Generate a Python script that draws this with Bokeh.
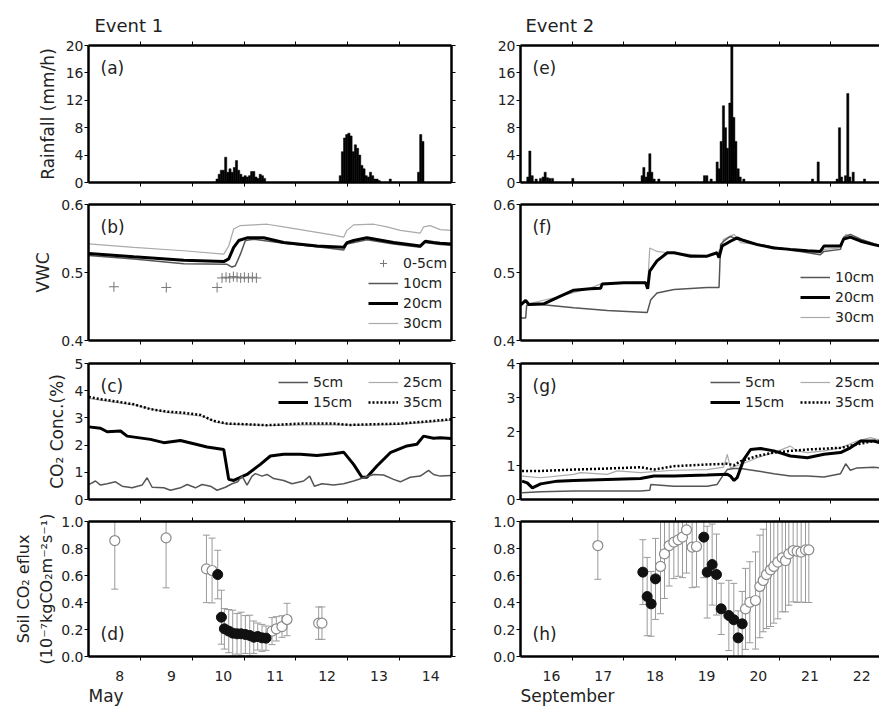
import numpy as np
from bokeh.plotting import figure
from bokeh.layouts import gridplot
from bokeh.models import (Range1d, LinearAxis, FixedTicker, PrintfTickFormatter,
                          Legend, LegendItem, Label, Title)
from bokeh.embed import file_html
from bokeh.resources import INLINE

FONT = "DejaVu Sans"
INK = "#222222"

# ------------------------------------------------------------------ data
may_days = [8, 9, 10, 11, 12, 13, 14]
sep_days = [16, 17, 18, 19, 20, 21, 22]

# rainfall, event 1 (hourly bars, start day of each storm + hourly mm/h)
rain1_start = [10.479, 12.855, 13.819, 14.365]
rain1_vals = [
    [0.5, 1.2, 1.8, 1.8, 3.7, 1.5, 2.0, 1.5, 2.2, 3.2, 1.8, 1.2, 0.8, 1.0, 0.8,
     1.0, 1.6, 1.6, 0.8, 0.6, 1.2, 1.0, 0.6],
    [1.0, 4.5, 6.5, 7.0, 7.2, 6.8, 4.5, 5.5, 5.0, 4.0, 2.5, 2.0, 1.0, 0.8, 1.5,
     1.0, 0.5, 0.5, 0.3],
    [0.5],
    [1.5, 7.0, 6.0],
]
# rainfall, event 2
rain2_time = [16.142, 16.181, 16.226, 16.303, 16.387, 16.438, 16.477, 16.522, 16.567,
              16.619, 17.012, 18.353, 18.386, 18.431, 18.469, 18.502, 18.540, 18.585,
              18.676, 19.559, 19.604, 19.688, 19.804, 19.843, 19.881, 19.926, 19.965,
              20.004, 20.049, 20.088, 20.126, 20.165, 20.210, 20.249, 20.320, 21.648,
              21.758, 22.125, 22.170, 22.209, 22.286, 22.331, 22.370, 22.435, 22.654]
rain2_mm = [0.8, 4.6, 1.0, 0.5, 0.6, 0.8, 1.5, 0.7, 0.6,
            0.6, 0.6, 1.0, 2.2, 0.8, 1.5, 4.2, 1.5, 0.5,
            0.5, 1.0, 1.0, 0.5, 3.0, 2.0, 6.0, 11.2, 8.0,
            5.0, 11.6, 20.0, 9.5, 6.0, 2.0, 0.8, 0.5, 0.5,
            3.0, 0.5, 8.0, 0.8, 1.0, 13.0, 0.8, 1.5, 0.5]

# VWC, event 1
vwc1_t05 = [8.49, 9.50, 10.48, 10.575, 10.652, 10.723, 10.794, 10.865, 10.935, 11.006,
            11.083, 11.160, 11.237]
vwc1_05 = [0.479, 0.478, 0.478, 0.492, 0.493, 0.492, 0.494, 0.493, 0.492, 0.493,
           0.492, 0.493, 0.492]
vwc1_t10 = [8.006, 8.873, 9.837, 10.672, 10.768, 10.832, 10.929, 11.025, 11.186, 11.764,
            12.406, 12.920, 12.984, 13.369, 13.883, 14.397, 14.493, 14.782, 15.0]
vwc1_10 = [0.525, 0.520, 0.513, 0.512, 0.508, 0.510, 0.527, 0.547, 0.549, 0.543,
           0.538, 0.533, 0.542, 0.548, 0.542, 0.537, 0.544, 0.541, 0.540]
vwc1_t20 = [8.006, 8.873, 9.837, 10.608, 10.704, 10.800, 10.897, 11.057, 11.378, 11.764,
            12.406, 12.920, 12.984, 13.112, 13.369, 13.883, 14.397, 14.493, 14.654,
            14.782, 15.0]
vwc1_20 = [0.528, 0.523, 0.518, 0.516, 0.520, 0.537, 0.547, 0.551, 0.551, 0.544,
           0.539, 0.537, 0.544, 0.547, 0.551, 0.544, 0.539, 0.546, 0.544, 0.543, 0.542]
vwc1_t30 = [8.006, 8.873, 9.837, 10.608, 10.704, 10.800, 10.929, 11.186, 11.443, 11.764,
            12.085, 12.406, 12.727, 12.920, 12.984, 13.112, 13.498, 13.755, 14.012,
            14.397, 14.461, 14.590, 14.782, 15.0]
vwc1_30 = [0.542, 0.537, 0.532, 0.527, 0.539, 0.564, 0.569, 0.570, 0.571, 0.567,
           0.563, 0.559, 0.555, 0.552, 0.562, 0.570, 0.571, 0.567, 0.562, 0.558,
           0.567, 0.569, 0.563, 0.562]

# VWC, event 2
vwc2_t10 = [16.0, 16.10, 16.12, 16.39, 17.03, 17.68, 18.45, 18.52, 18.64, 18.97, 19.61,
            19.84, 19.87, 19.93, 20.06, 20.19, 20.38, 20.90, 21.80, 21.87, 22.19, 22.25,
            22.38, 22.58, 22.96]
vwc2_10 = [0.433, 0.433, 0.452, 0.453, 0.448, 0.444, 0.441, 0.460, 0.470, 0.475, 0.478,
           0.478, 0.541, 0.546, 0.553, 0.549, 0.545, 0.537, 0.526, 0.531, 0.534, 0.552,
           0.556, 0.549, 0.539]
vwc2_t20 = [16.0, 16.10, 16.16, 16.45, 16.71, 17.03, 17.35, 17.55, 17.58, 18.0, 18.42,
            18.46, 18.50, 18.64, 18.84, 18.97, 19.29, 19.61, 19.80, 19.84, 19.90, 20.06,
            20.19, 20.32, 20.58, 20.90, 21.22, 21.55, 21.80, 21.87, 22.19, 22.25, 22.38,
            22.58, 22.83, 22.96]
vwc2_20 = [0.452, 0.459, 0.453, 0.454, 0.463, 0.474, 0.476, 0.477, 0.483, 0.485, 0.485,
           0.476, 0.502, 0.517, 0.529, 0.529, 0.524, 0.524, 0.529, 0.522, 0.539, 0.546,
           0.551, 0.547, 0.541, 0.536, 0.534, 0.532, 0.531, 0.539, 0.539, 0.549, 0.552,
           0.546, 0.541, 0.539]
vwc2_t30 = [16.0, 16.10, 16.16, 16.71, 17.35, 17.58, 18.42, 18.46, 18.50, 18.64, 18.84,
            19.61, 19.80, 19.87, 19.93, 20.13, 20.26, 20.58, 21.22, 21.80, 21.87, 22.19,
            22.29, 22.45, 22.96]
vwc2_30 = [0.453, 0.457, 0.454, 0.464, 0.477, 0.484, 0.486, 0.482, 0.536, 0.531, 0.529,
           0.525, 0.528, 0.535, 0.549, 0.556, 0.544, 0.541, 0.534, 0.529, 0.534, 0.536,
           0.556, 0.551, 0.540]

# CO2 concentration, event 1
co1_t05 = [8.006, 8.135, 8.231, 8.360, 8.520, 8.649, 8.841, 9.034, 9.130, 9.227, 9.452,
           9.580, 9.773, 9.901, 10.062, 10.190, 10.351, 10.479, 10.640, 10.768, 10.877,
           10.961, 11.057, 11.154, 11.218, 11.346, 11.443, 11.571, 11.764, 11.924,
           12.149, 12.265, 12.355, 12.502, 12.727, 12.920, 13.112, 13.305, 13.498,
           13.691, 13.883, 14.012, 14.204, 14.397, 14.558, 14.654, 14.782, 15.0]
co1_05 = [0.55, 0.68, 0.53, 0.58, 0.65, 0.49, 0.43, 0.53, 0.80, 0.45, 0.43,
          0.34, 0.43, 0.55, 0.43, 0.55, 0.49, 0.34, 0.45, 0.58, 0.65,
          0.86, 0.53, 0.86, 0.95, 0.86, 0.92, 0.77, 0.70, 0.58,
          0.68, 0.86, 0.49, 0.58, 0.53, 0.58, 0.68, 0.80, 0.92,
          0.90, 0.74, 0.65, 0.82, 0.86, 1.07, 0.92, 0.86, 0.88]
co1_t15 = [8.006, 8.231, 8.360, 8.617, 8.745, 9.195, 9.452, 9.773, 10.030, 10.286,
           10.608, 10.704, 10.800, 11.057, 11.314, 11.507, 11.764, 12.085, 12.406,
           12.727, 12.920, 13.112, 13.273, 13.369, 13.562, 13.819, 14.140, 14.333,
           14.461, 14.654, 14.782, 15.0]
co1_15 = [2.67, 2.62, 2.49, 2.52, 2.33, 2.21, 2.09, 2.17, 2.05, 1.93,
          1.84, 0.74, 0.70, 0.92, 1.29, 1.60, 1.66, 1.66, 1.62,
          1.68, 1.74, 1.29, 0.82, 0.82, 1.23, 1.72, 1.97, 2.03,
          2.33, 2.25, 2.27, 2.24]
co1_t25 = [8.0, 8.9, 9.5, 10.2, 10.45, 10.7, 11.5, 12.5, 13.4, 14.0, 14.7, 15.0]
co1_25 = [3.72, 3.47, 3.20, 3.06, 2.84, 2.77, 2.72, 2.75, 2.73, 2.76, 2.86, 2.92]
co1_t35 = [8.006, 8.231, 8.552, 8.873, 9.195, 9.516, 9.837, 10.158, 10.415, 10.672,
           11.121, 11.443, 11.764, 12.085, 12.727, 13.048, 13.369, 14.012, 14.654, 15.0]
co1_35 = [3.77, 3.69, 3.60, 3.50, 3.32, 3.23, 3.19, 3.11, 2.89, 2.79,
          2.76, 2.73, 2.76, 2.79, 2.79, 2.74, 2.76, 2.79, 2.89, 2.95]

# CO2 concentration, event 2
co2_t05 = [16.03, 16.39, 17.03, 17.68, 18.32, 18.50, 18.52, 18.97, 19.61, 19.80, 19.93,
           20.0, 20.13, 20.26, 20.58, 20.90, 21.22, 21.55, 21.87, 22.19, 22.29, 22.38,
           22.51, 22.83, 22.96]
co2_05 = [0.20, 0.23, 0.25, 0.25, 0.25, 0.27, 0.44, 0.39, 0.39, 0.44, 0.74,
          0.88, 0.91, 0.91, 0.84, 0.76, 0.69, 0.69, 0.66, 0.76, 1.05, 0.86,
          0.93, 0.95, 0.93]
co2_t15 = [16.03, 16.13, 16.23, 16.39, 16.71, 17.03, 17.68, 18.32, 18.58, 18.97, 19.61,
           20.0, 20.06, 20.13, 20.19, 20.32, 20.45, 20.64, 20.90, 21.22, 21.55, 21.87,
           22.19, 22.38, 22.58, 22.83, 22.96]
co2_15 = [0.54, 0.49, 0.34, 0.46, 0.54, 0.56, 0.59, 0.62, 0.69, 0.69, 0.72,
          0.74, 0.69, 0.56, 0.64, 1.18, 1.47, 1.50, 1.43, 1.28, 1.23, 1.33,
          1.38, 1.52, 1.72, 1.72, 1.67]
co2_t25 = [16.03, 16.39, 17.03, 17.16, 17.68, 17.87, 18.32, 18.97, 19.61, 19.93, 20.0,
           20.06, 20.26, 20.58, 20.90, 21.22, 21.35, 21.55, 21.87, 22.19, 22.51, 22.77,
           22.96]
co2_25 = [0.69, 0.64, 0.74, 0.79, 0.74, 0.84, 0.79, 0.86, 0.88, 0.95, 1.33,
          0.93, 1.03, 1.23, 1.38, 1.57, 1.43, 1.38, 1.43, 1.52, 1.72, 1.82,
          1.74]
co2_t35 = [16.03, 16.39, 17.03, 17.68, 18.32, 18.58, 18.97, 19.61, 20.0, 20.13, 20.26,
           20.58, 20.90, 21.22, 21.55, 22.19, 22.51, 22.83, 22.96]
co2_35 = [0.84, 0.84, 0.88, 0.91, 0.95, 0.88, 0.98, 1.03, 1.05, 1.01, 1.13,
          1.28, 1.38, 1.43, 1.47, 1.52, 1.62, 1.72, 1.72]

# soil CO2 efflux (mean and error), event 1
flux1_open_t = [8.507, 9.496, 10.274, 10.383, 11.539, 11.622, 11.731, 11.828, 12.438, 12.502]
flux1_open_v = [0.859, 0.879, 0.649, 0.637, 0.188, 0.205, 0.222, 0.274, 0.247, 0.247]
flux1_open_e = [0.36, 0.37, 0.25, 0.24, 0.10, 0.09, 0.08, 0.12, 0.12, 0.12]
flux1_fill_t = [10.492, 10.563, 10.620, 10.704, 10.781, 10.864, 10.942, 11.025, 11.109,
                11.186, 11.263, 11.346, 11.423]
flux1_fill_v = [0.607, 0.291, 0.205, 0.188, 0.173, 0.168, 0.168, 0.163, 0.156,
                0.143, 0.148, 0.138, 0.136]
flux1_fill_e = [0.18, 0.20, 0.15, 0.16, 0.17, 0.15, 0.16, 0.14, 0.15, 0.12, 0.10, 0.10, 0.09]

# soil CO2 efflux, event 2
flux2_open_t = [17.496, 18.708, 18.785, 18.876, 18.966, 19.050, 19.133, 19.211, 19.320,
                19.404, 20.352, 20.436, 20.545, 20.629, 20.694, 20.758, 20.836, 20.900,
                20.977, 21.061, 21.126, 21.190, 21.274, 21.351, 21.429, 21.513, 21.577]
flux2_open_v = [0.822, 0.667, 0.760, 0.822, 0.847, 0.864, 0.884, 0.938, 0.810,
                0.815, 0.353, 0.402, 0.415, 0.519, 0.563, 0.607, 0.642, 0.667,
                0.699, 0.731, 0.711, 0.760, 0.785, 0.780, 0.773, 0.790, 0.790]
flux2_open_e = [0.25, 0.35, 0.33, 0.30, 0.27, 0.27, 0.30, 0.32, 0.30,
                0.30, 0.30, 0.30, 0.36, 0.38, 0.38, 0.40, 0.42, 0.42,
                0.42, 0.40, 0.38, 0.38, 0.38, 0.38, 0.37, 0.39, 0.39]
flux2_fill_t = [18.366, 18.450, 18.527, 18.611, 19.546, 19.611, 19.707, 19.791, 19.881,
                20.030, 20.126, 20.210, 20.288]
flux2_fill_v = [0.625, 0.444, 0.390, 0.575, 0.884, 0.625, 0.681, 0.607, 0.353,
                0.304, 0.272, 0.138, 0.242]
flux2_fill_e = [0.24, 0.29, 0.24, 0.30, 0.30, 0.34, 0.30, 0.30, 0.19, 0.26, 0.27, 0.20, 0.24]

# ------------------------------------------------------------------ layout
LEFT_W, RIGHT_W = 471, 408
ROW_H = [192, 159, 159, 196]
ROW_TB = [(45, 10), (12, 11), (12, 11), (11, 50)]
COL_LR = [(88, 20), (49, 0)]
LABEL_SHIFT = 0.6          # day labels sit a bit past midnight
X_END = [15.0, 16 + 359 / 51.7]

C_10 = "#555555"
C_30 = "#aaaaaa"
C_ERR = "#9a9a9a"


def frame_h(row):
    return ROW_H[row] - ROW_TB[row][0] - ROW_TB[row][1]


def make_fig(col, row, y0, y1):
    days = may_days if col == 0 else sep_days
    x0 = days[0]
    lb, rb = COL_LR[col]
    tb, bb = ROW_TB[row]
    p = figure(width=LEFT_W if col == 0 else RIGHT_W, height=ROW_H[row],
               x_range=Range1d(x0, X_END[col]), y_range=Range1d(y0, y1),
               output_backend="svg", toolbar_location=None,
               x_axis_location=None, y_axis_location=None,
               min_border_left=lb, min_border_right=rb,
               min_border_top=tb, min_border_bottom=bb)
    p.outline_line_color = None
    p.xgrid.visible = False
    p.ygrid.visible = False
    p.background_fill_color = "white"
    p.border_fill_color = "white"

    ticks = [d + LABEL_SHIFT for d in days]
    minor = [d for d in range(x0 + 1, int(np.ceil(X_END[col])))]
    for loc in ("above", "below"):
        labelled = (loc == "below" and row == 3)
        ax = LinearAxis(ticker=FixedTicker(ticks=ticks if labelled else [],
                                           minor_ticks=minor))
        ax.axis_line_width = 2.5
        ax.axis_line_color = "black"
        ax.major_tick_line_color = None
        ax.major_tick_out = 0
        ax.major_tick_in = 0
        ax.minor_tick_line_color = "black"
        ax.minor_tick_line_width = 1
        ax.minor_tick_out = 4
        ax.minor_tick_in = 0
        if labelled:
            ax.major_label_overrides = {t: str(d) for t, d in zip(ticks, days)}
            ax.major_label_text_font = FONT
            ax.major_label_text_font_size = "14px"
            ax.major_label_text_color = INK
            ax.major_label_standoff = 10
        else:
            ax.major_label_standoff = 0
        p.add_layout(ax, loc)
    return p


def add_y(p, col, ticks, fmt, label=None, label_size="17px", standoff=5):
    sides = ["left", "right"] if col == 0 else ["left"]
    for loc in sides:
        if loc == "left":
            ax = LinearAxis(ticker=FixedTicker(ticks=ticks),
                            formatter=PrintfTickFormatter(format=fmt))
            ax.major_tick_line_color = "black"
            ax.major_tick_line_width = 1
            ax.major_tick_out = 4
            ax.major_tick_in = 0
            ax.minor_tick_line_color = None
            ax.major_label_text_font = FONT
            ax.major_label_text_font_size = "14px"
            ax.major_label_text_color = INK
            ax.major_label_standoff = 1
            if label:
                ax.axis_label = label
                ax.axis_label_text_font = FONT
                ax.axis_label_text_font_size = label_size
                ax.axis_label_text_font_style = "normal"
                ax.axis_label_text_color = INK
                ax.axis_label_standoff = standoff
        else:
            ax = LinearAxis(ticker=FixedTicker(ticks=[], minor_ticks=ticks))
            ax.major_tick_line_color = None
            ax.minor_tick_line_color = "black"
            ax.minor_tick_line_width = 1
            ax.minor_tick_out = 4
            ax.minor_tick_in = 0
            ax.major_label_standoff = 0
        ax.axis_line_width = 2.5
        ax.axis_line_color = "black"
        p.add_layout(ax, loc)


def tag(p, row, text, bottom=False):
    if bottom:
        lab = Label(x=12, y=13, x_units="screen", y_units="screen", text=text,
                    text_baseline="bottom")
    else:
        lab = Label(x=12, y=frame_h(row) - 12, x_units="screen", y_units="screen",
                    text=text, text_baseline="top")
    lab.text_font = FONT
    lab.text_font_size = "17px"
    lab.text_color = INK
    p.add_layout(lab)


def head(p, text, offset):
    p.title.text = text
    p.title.align = "left"
    p.title.offset = offset
    p.title.standoff = 11
    p.title.text_font = FONT
    p.title.text_font_size = "18px"
    p.title.text_font_style = "normal"
    p.title.text_color = INK


def foot(p, text):
    t = Title(text=text, align="left", offset=0, standoff=0, text_font=FONT,
              text_font_size="17px", text_font_style="normal", text_color=INK)
    p.add_layout(t, "below")


def legend(p, items, x, y):
    lg = Legend(items=[LegendItem(label=l, renderers=[r]) for l, r in items],
                location=(x, y), orientation="vertical", glyph_width=30,
                glyph_height=18, label_height=18, spacing=2, padding=0, margin=0,
                label_standoff=5, border_line_color=None, background_fill_alpha=0,
                label_text_font=FONT, label_text_font_size="14px",
                label_text_color=INK)
    p.add_layout(lg)


def error_bars(p, t, v, e):
    lo = [a - b for a, b in zip(v, e)]
    hi = [a + b for a, b in zip(v, e)]
    p.segment(x0=t, y0=lo, x1=t, y1=hi, line_color=C_ERR, line_width=1)
    p.scatter(x=t, y=lo, marker="dash", size=7, line_color=C_ERR, line_width=1)
    p.scatter(x=t, y=hi, marker="dash", size=7, line_color=C_ERR, line_width=1)


# ------------------------------------------------------------------ (a) rain 1
pa = make_fig(0, 0, 0, 20)
add_y(pa, 0, [0, 4, 8, 12, 16, 20], "%d", "Rainfall (mm/h)")
r1_t, r1_v = [], []
for s, vals in zip(rain1_start, rain1_vals):
    for i, v in enumerate(vals):
        r1_t.append(s + i / 24)
        r1_v.append(v)
pa.vbar(x=r1_t, top=r1_v, bottom=0, width=1 / 24, fill_color="black",
        line_color="black", line_width=0.5)
tag(pa, 0, "(a)")
head(pa, "Event 1", 6)

# ------------------------------------------------------------------ (e) rain 2
pe = make_fig(1, 0, 0, 20)
add_y(pe, 1, [0, 4, 8, 12, 16, 20], "%d")
pe.vbar(x=rain2_time, top=rain2_mm, bottom=0, width=1 / 24, fill_color="black",
        line_color="black", line_width=0.5)
tag(pe, 0, "(e)")
head(pe, "Event 2", 5)

# ------------------------------------------------------------------ (b) VWC 1
pb = make_fig(0, 1, 0.4, 0.6)
add_y(pb, 0, [0.4, 0.5, 0.6], "%.1f", "VWC")
b30 = pb.line(vwc1_t30, vwc1_30, line_color=C_30, line_width=1.2)
b10 = pb.line(vwc1_t10, vwc1_10, line_color=C_10, line_width=1.5)
b20 = pb.line(vwc1_t20, vwc1_20, line_color="black", line_width=3)
b05 = pb.scatter(vwc1_t05, vwc1_05, marker="cross", size=10, line_color="#777777",
                 line_width=1)
tag(pb, 1, "(b)")
legend(pb, [("0-5cm", b05), ("10cm", b10), ("20cm", b20), ("30cm", b30)], 280, 8)

# ------------------------------------------------------------------ (f) VWC 2
pf = make_fig(1, 1, 0.4, 0.6)
add_y(pf, 1, [0.4, 0.5, 0.6], "%.1f")
f30 = pf.line(vwc2_t30, vwc2_30, line_color=C_30, line_width=1.2)
f10 = pf.line(vwc2_t10, vwc2_10, line_color=C_10, line_width=1.5)
f20 = pf.line(vwc2_t20, vwc2_20, line_color="black", line_width=3)
tag(pf, 1, "(f)")
legend(pf, [("10cm", f10), ("20cm", f20), ("30cm", f30)], 280, 14)

# ------------------------------------------------------------------ (c) CO2 1
pc = make_fig(0, 2, 0, 5)
add_y(pc, 0, [0, 1, 2, 3, 4, 5], "%d", "CO\u2082 Conc.(%)")
c25 = pc.line(co1_t25, co1_25, line_color=C_30, line_width=1.2)
c35 = pc.line(co1_t35, co1_35, line_color="black", line_width=2.5, line_dash="2 2")
c15 = pc.line(co1_t15, co1_15, line_color="black", line_width=3)
c05 = pc.line(co1_t05, co1_05, line_color=C_10, line_width=1.5)
tag(pc, 2, "(c)")
legend(pc, [("5cm", c05), ("15cm", c15)], 190, 88)
legend(pc, [("25cm", c25), ("35cm", c35)], 280, 88)

# ------------------------------------------------------------------ (g) CO2 2
pg = make_fig(1, 2, 0, 4)
add_y(pg, 1, [0, 1, 2, 3, 4], "%d")
g25 = pg.line(co2_t25, co2_25, line_color=C_30, line_width=1.2)
g05 = pg.line(co2_t05, co2_05, line_color=C_10, line_width=1.5)
g35 = pg.line(co2_t35, co2_35, line_color="black", line_width=2.5, line_dash="2 2")
g15 = pg.line(co2_t15, co2_15, line_color="black", line_width=3)
tag(pg, 2, "(g)")
legend(pg, [("5cm", g05), ("15cm", g15)], 190, 88)
legend(pg, [("25cm", g25), ("35cm", g35)], 280, 88)

# ------------------------------------------------------------------ (d) flux 1
pd_ = make_fig(0, 3, 0, 1)
add_y(pd_, 0, [0, 0.2, 0.4, 0.6, 0.8, 1.0], "%.1f",
      "Soil CO\u2082 eflux\n(10\u207b\u2077kgCO\u2082m\u207b\u00b2s\u207b\u00b9)", "16px",
      standoff=2)
error_bars(pd_, flux1_open_t, flux1_open_v, flux1_open_e)
error_bars(pd_, flux1_fill_t, flux1_fill_v, flux1_fill_e)
pd_.scatter(flux1_open_t, flux1_open_v, marker="circle", size=10, fill_color="white",
            line_color="#8a8a8a", line_width=1.2)
pd_.scatter(flux1_fill_t, flux1_fill_v, marker="circle", size=10, fill_color="#111111",
            line_color="#111111", line_width=1)
tag(pd_, 3, "(d)", bottom=True)
foot(pd_, "May")

# ------------------------------------------------------------------ (h) flux 2
ph = make_fig(1, 3, 0, 1)
add_y(ph, 1, [0, 0.2, 0.4, 0.6, 0.8, 1.0], "%.1f")
error_bars(ph, flux2_open_t, flux2_open_v, flux2_open_e)
error_bars(ph, flux2_fill_t, flux2_fill_v, flux2_fill_e)
ph.scatter(flux2_open_t, flux2_open_v, marker="circle", size=10, fill_color="white",
           line_color="#8a8a8a", line_width=1.2)
ph.scatter(flux2_fill_t, flux2_fill_v, marker="circle", size=10, fill_color="#111111",
           line_color="#111111", line_width=1)
tag(ph, 3, "(h)", bottom=True)
foot(ph, "September")

grid = gridplot([[pa, pe], [pb, pf], [pc, pg], [pd_, ph]], toolbar_location=None)

open("out.html", "w").write(file_html(grid, INLINE))
